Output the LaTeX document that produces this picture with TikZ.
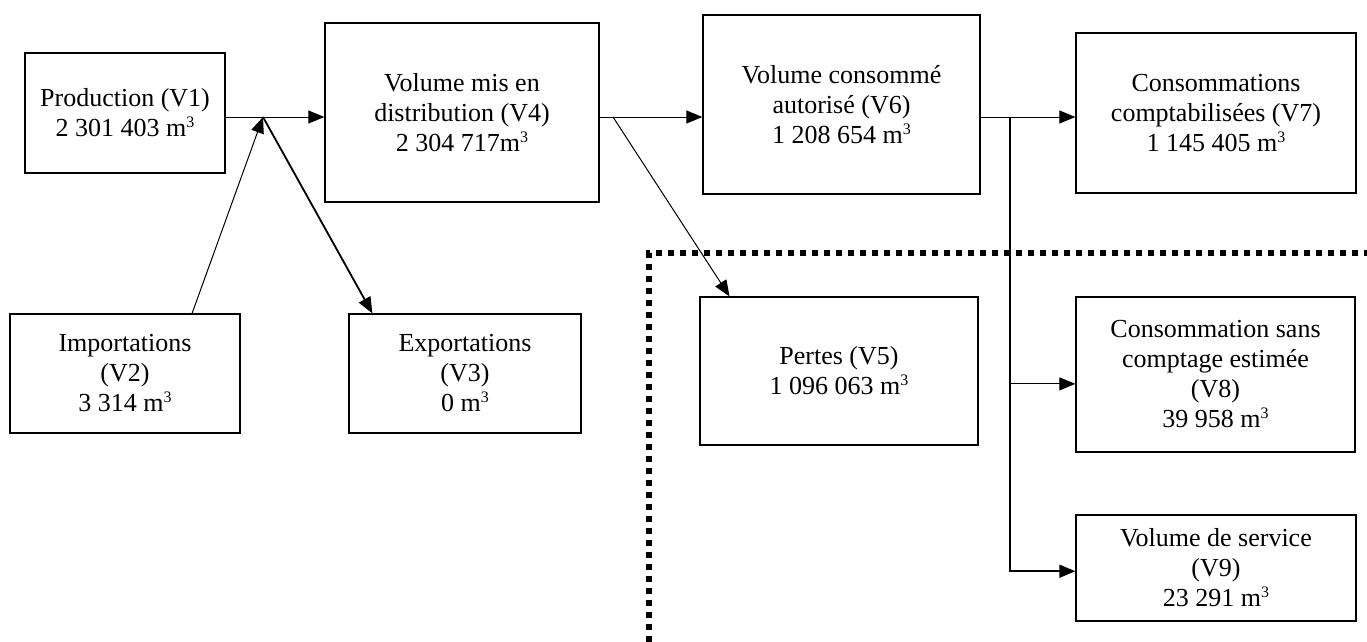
\documentclass[tikz,border=0pt]{standalone}
\usepackage{fontspec}
\setmainfont{Liberation Serif}
\usetikzlibrary{arrows.meta,calc}
\newcommand{\mcube}{m\raisebox{0.36em}{\fontsize{16}{16}\selectfont 3}}
\begin{document}
\begin{tikzpicture}[x=1pt,y=-1pt,
  box/.style={draw, line width=1.3pt, inner sep=0pt, align=center, font=\fontsize{26}{30}\selectfont},
  arr/.style={-{Triangle[length=16pt,width=13pt]}, line width=1pt},
  boldarr/.style={arr, line width=1.8pt},
  dotline/.style={line width=6pt, dash pattern=on 6pt off 6pt},
]
\useasboundingbox (0,0) rectangle (1367,642);
\node[box, minimum width=200pt, minimum height=120pt] (v1) at (125,113) {Production (V1)\\2 301 403 \mcube};
\node[box, minimum width=274pt, minimum height=179pt] (v4) at (462,112.5) {Volume mis en\\distribution (V4)\\2 304 717\mcube};
\node[box, minimum width=277pt, minimum height=179pt] (v6) at (841.5,104.5) {Volume consommé\\autorisé (V6)\\1 208 654 \mcube};
\node[box, minimum width=280pt, minimum height=160pt] (v7) at (1216,113) {Consommations\\comptabilisées (V7)\\1 145 405 \mcube};
\node[box, minimum width=230pt, minimum height=119pt] (v2) at (125,373.5) {Importations\\(V2)\\3 314 \mcube};
\node[box, minimum width=232pt, minimum height=119pt] (v3) at (465,373.5) {Exportations\\(V3)\\0 \mcube};
\node[box, minimum width=278pt, minimum height=148pt] (v5) at (839,371) {Pertes (V5)\\1 096 063 \mcube};
\node[box, minimum width=279pt, minimum height=155pt] (v8) at (1215.5,374.5) {Consommation sans\\comptage estimée\\(V8)\\39 958 \mcube};
\node[box, minimum width=280pt, minimum height=106pt] (v9) at (1216,568) {Volume de service\\(V9)\\23 291 \mcube};

\coordinate (j) at (263,117);
\coordinate (k) at (613,117);
\coordinate (b) at (1010,117);

\draw[arr] (v1.east |- j) -- (v4.west |- j);
\draw[arr] ($(v2.north west)!0.79!(v2.north east)$) -- (j);
\draw[boldarr] (j) -- ($(v3.north west)!0.103!(v3.north east)$);
\draw[arr] (v4.east |- j) -- (v6.west |- j);
\draw[arr] (k) -- ($(v5.north west)!0.108!(v5.north east)$);
\draw[arr] (v6.east |- j) -- (v7.west |- j);
\draw[arr] (b) |- ($(v8.north west)!0.56!(v8.south west)$);
\draw[arr, line width=1.5pt] (b) |- ($(v9.north west)!0.53!(v9.south west)$);

\draw[dotline] (649,642) -- (649,253) -- (1367,253);
\end{tikzpicture}
\end{document}
